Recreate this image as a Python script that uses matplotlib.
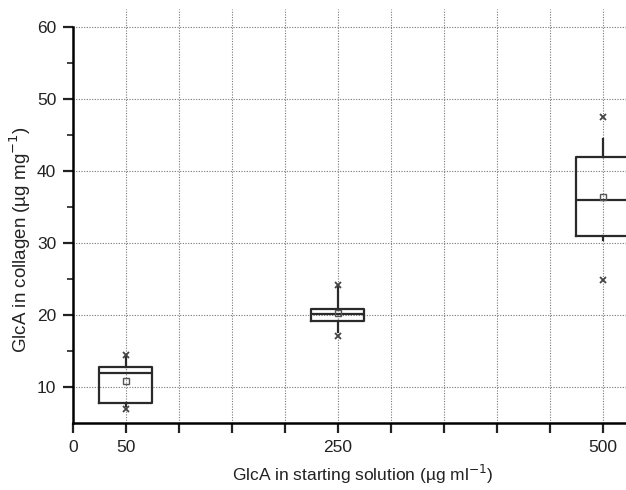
import matplotlib
matplotlib.use("Agg")
import matplotlib.pyplot as plt
from matplotlib.ticker import MultipleLocator, FixedLocator

plt.rcParams['font.family'] = ['Liberation Sans', 'DejaVu Sans']

# Data
positions = [50, 250, 500]
q1 = [7.8, 19.2, 31.0]
med = [11.9, 20.1, 36.0]
q3 = [12.8, 20.9, 42.0]
whislo = [7.3, 17.6, 30.4]
whishi = [14.2, 24.0, 44.5]
means = [10.9, 20.3, 36.4]
mins = [6.9, 17.1, 24.9]
maxs = [14.5, 24.2, 47.5]
xtick_labels = {0: "0", 50: "50", 250: "250", 500: "500"}

fig = plt.figure(figsize=(6.26, 4.90), dpi=100)
ax = fig.add_axes([73/626, 67/490, 1 - 73/626, (423 - 9)/490])

stats = []
for i in range(len(positions)):
    stats.append(dict(med=med[i], q1=q1[i], q3=q3[i], whislo=whislo[i],
                      whishi=whishi[i], fliers=[]))

col = '#2a2a2a'
ax.bxp(stats, positions=positions, widths=50, showcaps=False, showfliers=False,
       manage_ticks=False,
       boxprops=dict(color=col, linewidth=1.6),
       medianprops=dict(color=col, linewidth=1.6),
       whiskerprops=dict(color=col, linewidth=1.6), zorder=3)

ax.plot(positions, means, linestyle='none', marker='s', markersize=4.5,
        markerfacecolor='none', markeredgecolor='#555555', markeredgewidth=1.0, zorder=4)
ax.plot(positions, mins, linestyle='none', marker='x', markersize=4.5,
        color='#444444', markeredgewidth=1.3, zorder=4)
ax.plot(positions, maxs, linestyle='none', marker='x', markersize=4.5,
        color='#444444', markeredgewidth=1.3, zorder=4)

ax.set_xlim(0, 522)
ax.set_ylim(5, 62.5)

# grid
for xv in range(50, 501, 50):
    ax.axvline(xv, color='#777777', linewidth=0.8, linestyle=(0, (1, 1.4)), zorder=1)
for yv in range(10, 61, 10):
    ax.axhline(yv, color='#777777', linewidth=0.8, linestyle=(0, (1, 1.4)), zorder=1)

ax.spines['top'].set_visible(False)
ax.spines['right'].set_visible(False)
ax.spines['left'].set_bounds(5, 60)
ax.spines['left'].set_linewidth(1.8)
ax.spines['bottom'].set_linewidth(1.8)

ax.xaxis.set_major_locator(MultipleLocator(50))
ax.set_xticklabels([xtick_labels.get(int(round(t)), "") for t in ax.get_xticks()])
ax.yaxis.set_major_locator(FixedLocator([10, 20, 30, 40, 50, 60]))
ax.yaxis.set_minor_locator(FixedLocator([15, 25, 35, 45, 55]))

ax.tick_params(axis='both', which='major', direction='out', length=7, width=1.6,
               labelsize=12.5, colors='#222222', pad=5)
ax.tick_params(axis='y', which='minor', direction='out', length=4, width=1.2, colors='#222222')

ax.set_xlabel("GlcA in starting solution (µg ml$^{-1}$)", fontsize=12.5, color='#222222')
ax.set_ylabel("GlcA in collagen (µg mg$^{-1}$)", fontsize=13.5, color='#222222')
ax.xaxis.set_label_coords(0.523, -0.125)
ax.yaxis.set_label_coords(-0.096, 0.442)
ax.xaxis.label.set_va('center')
ax.yaxis.label.set_va('center')

fig.savefig("out.png", dpi=100)
